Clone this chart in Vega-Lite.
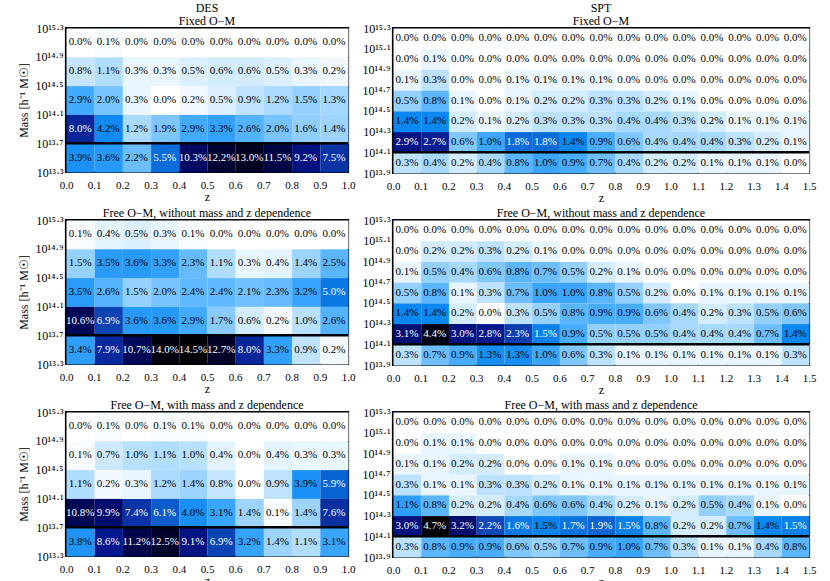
{
"$schema": "https://vega.github.io/schema/vega-lite/v6.json",
"padding": {"left": 15, "top": 0, "right": 5, "bottom": 2},
"background": "white",
"config": {
 "font": "Liberation Serif",
 "view": {"stroke": "black", "strokeWidth": 2.2},
 "axis": {"domain": false, "ticks": false, "tickSize": 0, "grid": false, "labelFont": "Liberation Serif", "labelFontSize": 11, "labelColor": "black", "labelFlush": false, "labelOverlap": false, "titleFont": "Liberation Serif", "titleFontSize": 12, "titleFontWeight": "normal", "titleColor": "black"},
 "axisX": {"labelPadding": 7, "titlePadding": 1},
 "axisY": {"labelPadding": 3, "titlePadding": 5, "labelFontSize": 12},
 "title": {"font": "Liberation Serif", "fontSize": 12, "fontWeight": "normal", "offset": -6, "lineHeight": 13, "color": "black"},
 "text": {"font": "Liberation Serif"}
},
"resolve": {"scale": {"color": "independent"}},
"datasets": {
"d1": [
{"z":0.05,"m":15.1,"v":0},{"z":0.15,"m":15.1,"v":0.001},{"z":0.25,"m":15.1,"v":0},{"z":0.35,"m":15.1,"v":0},{"z":0.45,"m":15.1,"v":0},{"z":0.55,"m":15.1,"v":0},{"z":0.65,"m":15.1,"v":0},{"z":0.75,"m":15.1,"v":0},{"z":0.85,"m":15.1,"v":0},{"z":0.95,"m":15.1,"v":0},
{"z":0.05,"m":14.7,"v":0.008},{"z":0.15,"m":14.7,"v":0.011},{"z":0.25,"m":14.7,"v":0.003},{"z":0.35,"m":14.7,"v":0.003},{"z":0.45,"m":14.7,"v":0.005},{"z":0.55,"m":14.7,"v":0.006},{"z":0.65,"m":14.7,"v":0.006},{"z":0.75,"m":14.7,"v":0.005},{"z":0.85,"m":14.7,"v":0.003},{"z":0.95,"m":14.7,"v":0.002},
{"z":0.05,"m":14.3,"v":0.029},{"z":0.15,"m":14.3,"v":0.020},{"z":0.25,"m":14.3,"v":0.003},{"z":0.35,"m":14.3,"v":0},{"z":0.45,"m":14.3,"v":0.002},{"z":0.55,"m":14.3,"v":0.005},{"z":0.65,"m":14.3,"v":0.009},{"z":0.75,"m":14.3,"v":0.012},{"z":0.85,"m":14.3,"v":0.015},{"z":0.95,"m":14.3,"v":0.013},
{"z":0.05,"m":13.9,"v":0.080},{"z":0.15,"m":13.9,"v":0.042},{"z":0.25,"m":13.9,"v":0.012},{"z":0.35,"m":13.9,"v":0.019},{"z":0.45,"m":13.9,"v":0.029},{"z":0.55,"m":13.9,"v":0.033},{"z":0.65,"m":13.9,"v":0.026},{"z":0.75,"m":13.9,"v":0.020},{"z":0.85,"m":13.9,"v":0.016},{"z":0.95,"m":13.9,"v":0.014},
{"z":0.05,"m":13.5,"v":0.039},{"z":0.15,"m":13.5,"v":0.036},{"z":0.25,"m":13.5,"v":0.022},{"z":0.35,"m":13.5,"v":0.055},{"z":0.45,"m":13.5,"v":0.103},{"z":0.55,"m":13.5,"v":0.122},{"z":0.65,"m":13.5,"v":0.130},{"z":0.75,"m":13.5,"v":0.115},{"z":0.85,"m":13.5,"v":0.092},{"z":0.95,"m":13.5,"v":0.075}
],
"d2": [
{"z":0.05,"m":15.1,"v":0.001},{"z":0.15,"m":15.1,"v":0.004},{"z":0.25,"m":15.1,"v":0.005},{"z":0.35,"m":15.1,"v":0.003},{"z":0.45,"m":15.1,"v":0.001},{"z":0.55,"m":15.1,"v":0},{"z":0.65,"m":15.1,"v":0},{"z":0.75,"m":15.1,"v":0},{"z":0.85,"m":15.1,"v":0},{"z":0.95,"m":15.1,"v":0},
{"z":0.05,"m":14.7,"v":0.015},{"z":0.15,"m":14.7,"v":0.035},{"z":0.25,"m":14.7,"v":0.036},{"z":0.35,"m":14.7,"v":0.033},{"z":0.45,"m":14.7,"v":0.023},{"z":0.55,"m":14.7,"v":0.011},{"z":0.65,"m":14.7,"v":0.003},{"z":0.75,"m":14.7,"v":0.004},{"z":0.85,"m":14.7,"v":0.014},{"z":0.95,"m":14.7,"v":0.025},
{"z":0.05,"m":14.3,"v":0.035},{"z":0.15,"m":14.3,"v":0.026},{"z":0.25,"m":14.3,"v":0.015},{"z":0.35,"m":14.3,"v":0.020},{"z":0.45,"m":14.3,"v":0.024},{"z":0.55,"m":14.3,"v":0.024},{"z":0.65,"m":14.3,"v":0.021},{"z":0.75,"m":14.3,"v":0.023},{"z":0.85,"m":14.3,"v":0.032},{"z":0.95,"m":14.3,"v":0.050},
{"z":0.05,"m":13.9,"v":0.106},{"z":0.15,"m":13.9,"v":0.069},{"z":0.25,"m":13.9,"v":0.036},{"z":0.35,"m":13.9,"v":0.036},{"z":0.45,"m":13.9,"v":0.029},{"z":0.55,"m":13.9,"v":0.017},{"z":0.65,"m":13.9,"v":0.006},{"z":0.75,"m":13.9,"v":0.002},{"z":0.85,"m":13.9,"v":0.010},{"z":0.95,"m":13.9,"v":0.026},
{"z":0.05,"m":13.5,"v":0.034},{"z":0.15,"m":13.5,"v":0.079},{"z":0.25,"m":13.5,"v":0.107},{"z":0.35,"m":13.5,"v":0.140},{"z":0.45,"m":13.5,"v":0.145},{"z":0.55,"m":13.5,"v":0.127},{"z":0.65,"m":13.5,"v":0.080},{"z":0.75,"m":13.5,"v":0.033},{"z":0.85,"m":13.5,"v":0.009},{"z":0.95,"m":13.5,"v":0.002}
],
"d3": [
{"z":0.05,"m":15.1,"v":0},{"z":0.15,"m":15.1,"v":0.001},{"z":0.25,"m":15.1,"v":0},{"z":0.35,"m":15.1,"v":0.001},{"z":0.45,"m":15.1,"v":0.001},{"z":0.55,"m":15.1,"v":0},{"z":0.65,"m":15.1,"v":0},{"z":0.75,"m":15.1,"v":0},{"z":0.85,"m":15.1,"v":0},{"z":0.95,"m":15.1,"v":0},
{"z":0.05,"m":14.7,"v":0.001},{"z":0.15,"m":14.7,"v":0.007},{"z":0.25,"m":14.7,"v":0.010},{"z":0.35,"m":14.7,"v":0.011},{"z":0.45,"m":14.7,"v":0.010},{"z":0.55,"m":14.7,"v":0.004},{"z":0.65,"m":14.7,"v":0},{"z":0.75,"m":14.7,"v":0.004},{"z":0.85,"m":14.7,"v":0.003},{"z":0.95,"m":14.7,"v":0.003},
{"z":0.05,"m":14.3,"v":0.011},{"z":0.15,"m":14.3,"v":0.002},{"z":0.25,"m":14.3,"v":0.003},{"z":0.35,"m":14.3,"v":0.012},{"z":0.45,"m":14.3,"v":0.014},{"z":0.55,"m":14.3,"v":0.008},{"z":0.65,"m":14.3,"v":0},{"z":0.75,"m":14.3,"v":0.009},{"z":0.85,"m":14.3,"v":0.039},{"z":0.95,"m":14.3,"v":0.059},
{"z":0.05,"m":13.9,"v":0.108},{"z":0.15,"m":13.9,"v":0.099},{"z":0.25,"m":13.9,"v":0.074},{"z":0.35,"m":13.9,"v":0.061},{"z":0.45,"m":13.9,"v":0.040},{"z":0.55,"m":13.9,"v":0.031},{"z":0.65,"m":13.9,"v":0.014},{"z":0.75,"m":13.9,"v":0.001},{"z":0.85,"m":13.9,"v":0.014},{"z":0.95,"m":13.9,"v":0.076},
{"z":0.05,"m":13.5,"v":0.038},{"z":0.15,"m":13.5,"v":0.086},{"z":0.25,"m":13.5,"v":0.112},{"z":0.35,"m":13.5,"v":0.125},{"z":0.45,"m":13.5,"v":0.091},{"z":0.55,"m":13.5,"v":0.069},{"z":0.65,"m":13.5,"v":0.032},{"z":0.75,"m":13.5,"v":0.014},{"z":0.85,"m":13.5,"v":0.011},{"z":0.95,"m":13.5,"v":0.031}
],
"s1": [
{"z":0.05,"m":15.2,"v":0},{"z":0.15,"m":15.2,"v":0},{"z":0.25,"m":15.2,"v":0},{"z":0.35,"m":15.2,"v":0},{"z":0.45,"m":15.2,"v":0},{"z":0.55,"m":15.2,"v":0},{"z":0.65,"m":15.2,"v":0},{"z":0.75,"m":15.2,"v":0},{"z":0.85,"m":15.2,"v":0},{"z":0.95,"m":15.2,"v":0},{"z":1.05,"m":15.2,"v":0},{"z":1.15,"m":15.2,"v":0},{"z":1.25,"m":15.2,"v":0},{"z":1.35,"m":15.2,"v":0},{"z":1.45,"m":15.2,"v":0},
{"z":0.05,"m":15.0,"v":0},{"z":0.15,"m":15.0,"v":0.001},{"z":0.25,"m":15.0,"v":0},{"z":0.35,"m":15.0,"v":0},{"z":0.45,"m":15.0,"v":0},{"z":0.55,"m":15.0,"v":0},{"z":0.65,"m":15.0,"v":0},{"z":0.75,"m":15.0,"v":0},{"z":0.85,"m":15.0,"v":0},{"z":0.95,"m":15.0,"v":0},{"z":1.05,"m":15.0,"v":0},{"z":1.15,"m":15.0,"v":0},{"z":1.25,"m":15.0,"v":0},{"z":1.35,"m":15.0,"v":0},{"z":1.45,"m":15.0,"v":0},
{"z":0.05,"m":14.8,"v":0.001},{"z":0.15,"m":14.8,"v":0.003},{"z":0.25,"m":14.8,"v":0},{"z":0.35,"m":14.8,"v":0},{"z":0.45,"m":14.8,"v":0.001},{"z":0.55,"m":14.8,"v":0.001},{"z":0.65,"m":14.8,"v":0.001},{"z":0.75,"m":14.8,"v":0.001},{"z":0.85,"m":14.8,"v":0},{"z":0.95,"m":14.8,"v":0},{"z":1.05,"m":14.8,"v":0},{"z":1.15,"m":14.8,"v":0},{"z":1.25,"m":14.8,"v":0},{"z":1.35,"m":14.8,"v":0},{"z":1.45,"m":14.8,"v":0},
{"z":0.05,"m":14.6,"v":0.005},{"z":0.15,"m":14.6,"v":0.008},{"z":0.25,"m":14.6,"v":0.001},{"z":0.35,"m":14.6,"v":0},{"z":0.45,"m":14.6,"v":0.001},{"z":0.55,"m":14.6,"v":0.002},{"z":0.65,"m":14.6,"v":0.002},{"z":0.75,"m":14.6,"v":0.003},{"z":0.85,"m":14.6,"v":0.003},{"z":0.95,"m":14.6,"v":0.002},{"z":1.05,"m":14.6,"v":0.001},{"z":1.15,"m":14.6,"v":0},{"z":1.25,"m":14.6,"v":0},{"z":1.35,"m":14.6,"v":0},{"z":1.45,"m":14.6,"v":0},
{"z":0.05,"m":14.4,"v":0.014},{"z":0.15,"m":14.4,"v":0.014},{"z":0.25,"m":14.4,"v":0.002},{"z":0.35,"m":14.4,"v":0.001},{"z":0.45,"m":14.4,"v":0.002},{"z":0.55,"m":14.4,"v":0.003},{"z":0.65,"m":14.4,"v":0.003},{"z":0.75,"m":14.4,"v":0.003},{"z":0.85,"m":14.4,"v":0.004},{"z":0.95,"m":14.4,"v":0.004},{"z":1.05,"m":14.4,"v":0.003},{"z":1.15,"m":14.4,"v":0.002},{"z":1.25,"m":14.4,"v":0.001},{"z":1.35,"m":14.4,"v":0.001},{"z":1.45,"m":14.4,"v":0.001},
{"z":0.05,"m":14.2,"v":0.029},{"z":0.15,"m":14.2,"v":0.027},{"z":0.25,"m":14.2,"v":0.006},{"z":0.35,"m":14.2,"v":0.010},{"z":0.45,"m":14.2,"v":0.018},{"z":0.55,"m":14.2,"v":0.018},{"z":0.65,"m":14.2,"v":0.014},{"z":0.75,"m":14.2,"v":0.009},{"z":0.85,"m":14.2,"v":0.006},{"z":0.95,"m":14.2,"v":0.004},{"z":1.05,"m":14.2,"v":0.004},{"z":1.15,"m":14.2,"v":0.004},{"z":1.25,"m":14.2,"v":0.003},{"z":1.35,"m":14.2,"v":0.002},{"z":1.45,"m":14.2,"v":0.001},
{"z":0.05,"m":14.0,"v":0.003},{"z":0.15,"m":14.0,"v":0.004},{"z":0.25,"m":14.0,"v":0.002},{"z":0.35,"m":14.0,"v":0.004},{"z":0.45,"m":14.0,"v":0.008},{"z":0.55,"m":14.0,"v":0.010},{"z":0.65,"m":14.0,"v":0.009},{"z":0.75,"m":14.0,"v":0.007},{"z":0.85,"m":14.0,"v":0.004},{"z":0.95,"m":14.0,"v":0.002},{"z":1.05,"m":14.0,"v":0.002},{"z":1.15,"m":14.0,"v":0.001},{"z":1.25,"m":14.0,"v":0.001},{"z":1.35,"m":14.0,"v":0.001},{"z":1.45,"m":14.0,"v":0}
],
"s2": [
{"z":0.05,"m":15.2,"v":0},{"z":0.15,"m":15.2,"v":0},{"z":0.25,"m":15.2,"v":0},{"z":0.35,"m":15.2,"v":0},{"z":0.45,"m":15.2,"v":0},{"z":0.55,"m":15.2,"v":0},{"z":0.65,"m":15.2,"v":0},{"z":0.75,"m":15.2,"v":0},{"z":0.85,"m":15.2,"v":0},{"z":0.95,"m":15.2,"v":0},{"z":1.05,"m":15.2,"v":0},{"z":1.15,"m":15.2,"v":0},{"z":1.25,"m":15.2,"v":0},{"z":1.35,"m":15.2,"v":0},{"z":1.45,"m":15.2,"v":0},
{"z":0.05,"m":15.0,"v":0},{"z":0.15,"m":15.0,"v":0.002},{"z":0.25,"m":15.0,"v":0.002},{"z":0.35,"m":15.0,"v":0.003},{"z":0.45,"m":15.0,"v":0.002},{"z":0.55,"m":15.0,"v":0.001},{"z":0.65,"m":15.0,"v":0},{"z":0.75,"m":15.0,"v":0},{"z":0.85,"m":15.0,"v":0},{"z":0.95,"m":15.0,"v":0},{"z":1.05,"m":15.0,"v":0},{"z":1.15,"m":15.0,"v":0},{"z":1.25,"m":15.0,"v":0},{"z":1.35,"m":15.0,"v":0},{"z":1.45,"m":15.0,"v":0},
{"z":0.05,"m":14.8,"v":0.001},{"z":0.15,"m":14.8,"v":0.005},{"z":0.25,"m":14.8,"v":0.004},{"z":0.35,"m":14.8,"v":0.006},{"z":0.45,"m":14.8,"v":0.008},{"z":0.55,"m":14.8,"v":0.007},{"z":0.65,"m":14.8,"v":0.005},{"z":0.75,"m":14.8,"v":0.002},{"z":0.85,"m":14.8,"v":0.001},{"z":0.95,"m":14.8,"v":0},{"z":1.05,"m":14.8,"v":0},{"z":1.15,"m":14.8,"v":0},{"z":1.25,"m":14.8,"v":0},{"z":1.35,"m":14.8,"v":0},{"z":1.45,"m":14.8,"v":0},
{"z":0.05,"m":14.6,"v":0.005},{"z":0.15,"m":14.6,"v":0.008},{"z":0.25,"m":14.6,"v":0.001},{"z":0.35,"m":14.6,"v":0.003},{"z":0.45,"m":14.6,"v":0.007},{"z":0.55,"m":14.6,"v":0.010},{"z":0.65,"m":14.6,"v":0.010},{"z":0.75,"m":14.6,"v":0.008},{"z":0.85,"m":14.6,"v":0.005},{"z":0.95,"m":14.6,"v":0.002},{"z":1.05,"m":14.6,"v":0},{"z":1.15,"m":14.6,"v":0.001},{"z":1.25,"m":14.6,"v":0.001},{"z":1.35,"m":14.6,"v":0.001},{"z":1.45,"m":14.6,"v":0.001},
{"z":0.05,"m":14.4,"v":0.014},{"z":0.15,"m":14.4,"v":0.014},{"z":0.25,"m":14.4,"v":0.002},{"z":0.35,"m":14.4,"v":0},{"z":0.45,"m":14.4,"v":0.003},{"z":0.55,"m":14.4,"v":0.005},{"z":0.65,"m":14.4,"v":0.008},{"z":0.75,"m":14.4,"v":0.009},{"z":0.85,"m":14.4,"v":0.009},{"z":0.95,"m":14.4,"v":0.006},{"z":1.05,"m":14.4,"v":0.004},{"z":1.15,"m":14.4,"v":0.002},{"z":1.25,"m":14.4,"v":0.003},{"z":1.35,"m":14.4,"v":0.005},{"z":1.45,"m":14.4,"v":0.006},
{"z":0.05,"m":14.2,"v":0.031},{"z":0.15,"m":14.2,"v":0.044},{"z":0.25,"m":14.2,"v":0.030},{"z":0.35,"m":14.2,"v":0.028},{"z":0.45,"m":14.2,"v":0.023},{"z":0.55,"m":14.2,"v":0.015},{"z":0.65,"m":14.2,"v":0.009},{"z":0.75,"m":14.2,"v":0.005},{"z":0.85,"m":14.2,"v":0.005},{"z":0.95,"m":14.2,"v":0.005},{"z":1.05,"m":14.2,"v":0.004},{"z":1.15,"m":14.2,"v":0.004},{"z":1.25,"m":14.2,"v":0.004},{"z":1.35,"m":14.2,"v":0.007},{"z":1.45,"m":14.2,"v":0.014},
{"z":0.05,"m":14.0,"v":0.003},{"z":0.15,"m":14.0,"v":0.007},{"z":0.25,"m":14.0,"v":0.009},{"z":0.35,"m":14.0,"v":0.013},{"z":0.45,"m":14.0,"v":0.013},{"z":0.55,"m":14.0,"v":0.010},{"z":0.65,"m":14.0,"v":0.006},{"z":0.75,"m":14.0,"v":0.003},{"z":0.85,"m":14.0,"v":0.001},{"z":0.95,"m":14.0,"v":0.001},{"z":1.05,"m":14.0,"v":0.001},{"z":1.15,"m":14.0,"v":0.001},{"z":1.25,"m":14.0,"v":0.001},{"z":1.35,"m":14.0,"v":0.001},{"z":1.45,"m":14.0,"v":0.003}
],
"s3": [
{"z":0.05,"m":15.2,"v":0},{"z":0.15,"m":15.2,"v":0},{"z":0.25,"m":15.2,"v":0},{"z":0.35,"m":15.2,"v":0},{"z":0.45,"m":15.2,"v":0},{"z":0.55,"m":15.2,"v":0},{"z":0.65,"m":15.2,"v":0},{"z":0.75,"m":15.2,"v":0},{"z":0.85,"m":15.2,"v":0},{"z":0.95,"m":15.2,"v":0},{"z":1.05,"m":15.2,"v":0},{"z":1.15,"m":15.2,"v":0},{"z":1.25,"m":15.2,"v":0},{"z":1.35,"m":15.2,"v":0},{"z":1.45,"m":15.2,"v":0},
{"z":0.05,"m":15.0,"v":0},{"z":0.15,"m":15.0,"v":0.001},{"z":0.25,"m":15.0,"v":0.001},{"z":0.35,"m":15.0,"v":0},{"z":0.45,"m":15.0,"v":0},{"z":0.55,"m":15.0,"v":0},{"z":0.65,"m":15.0,"v":0},{"z":0.75,"m":15.0,"v":0},{"z":0.85,"m":15.0,"v":0},{"z":0.95,"m":15.0,"v":0},{"z":1.05,"m":15.0,"v":0},{"z":1.15,"m":15.0,"v":0},{"z":1.25,"m":15.0,"v":0},{"z":1.35,"m":15.0,"v":0},{"z":1.45,"m":15.0,"v":0},
{"z":0.05,"m":14.8,"v":0.001},{"z":0.15,"m":14.8,"v":0.001},{"z":0.25,"m":14.8,"v":0.002},{"z":0.35,"m":14.8,"v":0.002},{"z":0.45,"m":14.8,"v":0},{"z":0.55,"m":14.8,"v":0},{"z":0.65,"m":14.8,"v":0.001},{"z":0.75,"m":14.8,"v":0.001},{"z":0.85,"m":14.8,"v":0},{"z":0.95,"m":14.8,"v":0},{"z":1.05,"m":14.8,"v":0},{"z":1.15,"m":14.8,"v":0},{"z":1.25,"m":14.8,"v":0},{"z":1.35,"m":14.8,"v":0},{"z":1.45,"m":14.8,"v":0},
{"z":0.05,"m":14.6,"v":0.003},{"z":0.15,"m":14.6,"v":0.001},{"z":0.25,"m":14.6,"v":0.001},{"z":0.35,"m":14.6,"v":0.003},{"z":0.45,"m":14.6,"v":0.003},{"z":0.55,"m":14.6,"v":0.002},{"z":0.65,"m":14.6,"v":0.001},{"z":0.75,"m":14.6,"v":0.001},{"z":0.85,"m":14.6,"v":0.001},{"z":0.95,"m":14.6,"v":0.001},{"z":1.05,"m":14.6,"v":0.001},{"z":1.15,"m":14.6,"v":0.001},{"z":1.25,"m":14.6,"v":0.001},{"z":1.35,"m":14.6,"v":0.001},{"z":1.45,"m":14.6,"v":0.001},
{"z":0.05,"m":14.4,"v":0.011},{"z":0.15,"m":14.4,"v":0.008},{"z":0.25,"m":14.4,"v":0.002},{"z":0.35,"m":14.4,"v":0.002},{"z":0.45,"m":14.4,"v":0.004},{"z":0.55,"m":14.4,"v":0.006},{"z":0.65,"m":14.4,"v":0.006},{"z":0.75,"m":14.4,"v":0.004},{"z":0.85,"m":14.4,"v":0.002},{"z":0.95,"m":14.4,"v":0.001},{"z":1.05,"m":14.4,"v":0.002},{"z":1.15,"m":14.4,"v":0.005},{"z":1.25,"m":14.4,"v":0.004},{"z":1.35,"m":14.4,"v":0.001},{"z":1.45,"m":14.4,"v":0},
{"z":0.05,"m":14.2,"v":0.030},{"z":0.15,"m":14.2,"v":0.047},{"z":0.25,"m":14.2,"v":0.032},{"z":0.35,"m":14.2,"v":0.022},{"z":0.45,"m":14.2,"v":0.016},{"z":0.55,"m":14.2,"v":0.0146},{"z":0.65,"m":14.2,"v":0.017},{"z":0.75,"m":14.2,"v":0.019},{"z":0.85,"m":14.2,"v":0.015},{"z":0.95,"m":14.2,"v":0.008},{"z":1.05,"m":14.2,"v":0.002},{"z":1.15,"m":14.2,"v":0.002},{"z":1.25,"m":14.2,"v":0.007},{"z":1.35,"m":14.2,"v":0.014},{"z":1.45,"m":14.2,"v":0.015},
{"z":0.05,"m":14.0,"v":0.003},{"z":0.15,"m":14.0,"v":0.008},{"z":0.25,"m":14.0,"v":0.009},{"z":0.35,"m":14.0,"v":0.009},{"z":0.45,"m":14.0,"v":0.006},{"z":0.55,"m":14.0,"v":0.005},{"z":0.65,"m":14.0,"v":0.007},{"z":0.75,"m":14.0,"v":0.009},{"z":0.85,"m":14.0,"v":0.010},{"z":0.95,"m":14.0,"v":0.007},{"z":1.05,"m":14.0,"v":0.003},{"z":1.15,"m":14.0,"v":0.001},{"z":1.25,"m":14.0,"v":0.001},{"z":1.35,"m":14.0,"v":0.004},{"z":1.45,"m":14.0,"v":0.008}
]
},
"spacing": 0,
"vconcat": [
{"resolve": {"scale": {"color": "independent"}}, "hconcat": [
 {"width": 282, "height": 144, "title": {"text": ["DES", "Fixed O−M"]}, "data": {"name": "d1"},
  "layer": [
   {"mark": {"type": "rect", "binSpacing": 0}, "encoding": {
     "x": {"field": "z", "type": "quantitative", "bin": {"extent": [0, 1], "step": 0.1, "nice": false}, "scale": {"domain": [0, 1], "nice": false, "zero": false}, "axis": {"values": [0,0.1,0.2,0.3,0.4,0.5,0.6,0.7,0.8,0.9,1], "format": ".1f", "title": "z"}},
     "y": {"field": "m", "type": "quantitative", "bin": {"extent": [13.3, 15.3], "step": 0.4, "nice": false}, "scale": {"domain": [13.3, 15.3], "nice": false, "zero": false}, "axis": {"values": [13.3,13.7,14.1,14.5,14.9,15.3], "labelExpr": "({'13.3':'10¹³·³','13.7':'10¹³·⁷','14.1':'10¹⁴·¹','14.5':'10¹⁴·⁵','14.9':'10¹⁴·⁹','15.3':'10¹⁵·³'})[format(datum.value,'.1f')]", "title": "Mass [h⁻¹ M☉]"}},
     "color": {"field": "v", "type": "quantitative", "legend": null, "scale": {"domain": [0,0.0145,0.029,0.0435,0.058,0.0725,0.087,0.1015,0.12325,0.145], "range": ["#ffffff","#98d2ff","#42aaff","#0a86f0","#0a66d4","#0a38aa","#04168c","#000a66","#00022e","#000005"], "interpolate": "rgb"}}}},
   {"mark": {"type": "text", "fontSize": 11}, "encoding": {
     "x": {"field": "z", "type": "quantitative", "axis": {"title": "z"}},
     "y": {"field": "m", "type": "quantitative", "axis": {"title": "Mass [h⁻¹ M☉]"}},
     "text": {"field": "v", "type": "quantitative", "format": ".1%"},
     "color": {"condition": {"test": "datum.v >= 0.045", "value": "white"}, "value": "black"}}},
   {"data": {"values": [{}]}, "mark": {"type": "rule", "strokeWidth": 2.5, "color": "black"}, "encoding": {"y": {"datum": 13.7}}}
  ]},
 {"width": 416, "height": 145, "title": {"text": ["SPT", "Fixed O−M"]}, "data": {"name": "s1"},
  "layer": [
   {"mark": {"type": "rect", "binSpacing": 0}, "encoding": {
     "x": {"field": "z", "type": "quantitative", "bin": {"extent": [0, 1.5], "step": 0.1, "nice": false}, "scale": {"domain": [0, 1.5], "nice": false, "zero": false}, "axis": {"values": [0,0.1,0.2,0.3,0.4,0.5,0.6,0.7,0.8,0.9,1,1.1,1.2,1.3,1.4,1.5], "format": ".1f", "title": "z"}},
     "y": {"field": "m", "type": "quantitative", "bin": {"extent": [13.9, 15.3], "step": 0.2, "nice": false}, "scale": {"domain": [13.9, 15.3], "nice": false, "zero": false}, "axis": {"values": [13.9,14.1,14.3,14.5,14.7,14.9,15.1,15.3], "labelExpr": "({'13.9':'10¹³·⁹','14.1':'10¹⁴·¹','14.3':'10¹⁴·³','14.5':'10¹⁴·⁵','14.7':'10¹⁴·⁷','14.9':'10¹⁴·⁹','15.1':'10¹⁵·¹','15.3':'10¹⁵·³'})[format(datum.value,'.1f')]", "title": null}},
     "color": {"field": "v", "type": "quantitative", "legend": null, "scale": {"domain": [0,0.0047,0.0094,0.0141,0.0188,0.0235,0.0282,0.0329,0.03995,0.047], "range": ["#ffffff","#98d2ff","#42aaff","#0a86f0","#0a66d4","#0a38aa","#04168c","#000a66","#00022e","#000005"], "interpolate": "rgb"}}}},
   {"mark": {"type": "text", "fontSize": 11}, "encoding": {
     "x": {"field": "z", "type": "quantitative", "axis": {"title": "z"}},
     "y": {"field": "m", "type": "quantitative", "axis": {"title": null}},
     "text": {"field": "v", "type": "quantitative", "format": ".1%"},
     "color": {"condition": {"test": "datum.v >= 0.0148", "value": "white"}, "value": "black"}}},
   {"data": {"values": [{}]}, "mark": {"type": "rule", "strokeWidth": 2.5, "color": "black"}, "encoding": {"y": {"datum": 14.1}}}
  ]}
], "spacing": 4},
{"resolve": {"scale": {"color": "independent"}}, "hconcat": [
 {"width": 282, "height": 144, "title": {"text": "Free O−M, without mass and z dependence"}, "data": {"name": "d2"},
  "layer": [
   {"mark": {"type": "rect", "binSpacing": 0}, "encoding": {
     "x": {"field": "z", "type": "quantitative", "bin": {"extent": [0, 1], "step": 0.1, "nice": false}, "scale": {"domain": [0, 1], "nice": false, "zero": false}, "axis": {"values": [0,0.1,0.2,0.3,0.4,0.5,0.6,0.7,0.8,0.9,1], "format": ".1f", "title": "z"}},
     "y": {"field": "m", "type": "quantitative", "bin": {"extent": [13.3, 15.3], "step": 0.4, "nice": false}, "scale": {"domain": [13.3, 15.3], "nice": false, "zero": false}, "axis": {"values": [13.3,13.7,14.1,14.5,14.9,15.3], "labelExpr": "({'13.3':'10¹³·³','13.7':'10¹³·⁷','14.1':'10¹⁴·¹','14.5':'10¹⁴·⁵','14.9':'10¹⁴·⁹','15.3':'10¹⁵·³'})[format(datum.value,'.1f')]", "title": "Mass [h⁻¹ M☉]"}},
     "color": {"field": "v", "type": "quantitative", "legend": null, "scale": {"domain": [0,0.0145,0.029,0.0435,0.058,0.0725,0.087,0.1015,0.12325,0.145], "range": ["#ffffff","#98d2ff","#42aaff","#0a86f0","#0a66d4","#0a38aa","#04168c","#000a66","#00022e","#000005"], "interpolate": "rgb"}}}},
   {"mark": {"type": "text", "fontSize": 11}, "encoding": {
     "x": {"field": "z", "type": "quantitative", "axis": {"title": "z"}},
     "y": {"field": "m", "type": "quantitative", "axis": {"title": "Mass [h⁻¹ M☉]"}},
     "text": {"field": "v", "type": "quantitative", "format": ".1%"},
     "color": {"condition": {"test": "datum.v >= 0.045", "value": "white"}, "value": "black"}}},
   {"data": {"values": [{}]}, "mark": {"type": "rule", "strokeWidth": 2.5, "color": "black"}, "encoding": {"y": {"datum": 13.7}}}
  ]},
 {"width": 416, "height": 145, "title": {"text": "Free O−M, without mass and z dependence"}, "data": {"name": "s2"},
  "layer": [
   {"mark": {"type": "rect", "binSpacing": 0}, "encoding": {
     "x": {"field": "z", "type": "quantitative", "bin": {"extent": [0, 1.5], "step": 0.1, "nice": false}, "scale": {"domain": [0, 1.5], "nice": false, "zero": false}, "axis": {"values": [0,0.1,0.2,0.3,0.4,0.5,0.6,0.7,0.8,0.9,1,1.1,1.2,1.3,1.4,1.5], "format": ".1f", "title": "z"}},
     "y": {"field": "m", "type": "quantitative", "bin": {"extent": [13.9, 15.3], "step": 0.2, "nice": false}, "scale": {"domain": [13.9, 15.3], "nice": false, "zero": false}, "axis": {"values": [13.9,14.1,14.3,14.5,14.7,14.9,15.1,15.3], "labelExpr": "({'13.9':'10¹³·⁹','14.1':'10¹⁴·¹','14.3':'10¹⁴·³','14.5':'10¹⁴·⁵','14.7':'10¹⁴·⁷','14.9':'10¹⁴·⁹','15.1':'10¹⁵·¹','15.3':'10¹⁵·³'})[format(datum.value,'.1f')]", "title": null}},
     "color": {"field": "v", "type": "quantitative", "legend": null, "scale": {"domain": [0,0.0047,0.0094,0.0141,0.0188,0.0235,0.0282,0.0329,0.03995,0.047], "range": ["#ffffff","#98d2ff","#42aaff","#0a86f0","#0a66d4","#0a38aa","#04168c","#000a66","#00022e","#000005"], "interpolate": "rgb"}}}},
   {"mark": {"type": "text", "fontSize": 11}, "encoding": {
     "x": {"field": "z", "type": "quantitative", "axis": {"title": "z"}},
     "y": {"field": "m", "type": "quantitative", "axis": {"title": null}},
     "text": {"field": "v", "type": "quantitative", "format": ".1%"},
     "color": {"condition": {"test": "datum.v >= 0.0148", "value": "white"}, "value": "black"}}},
   {"data": {"values": [{}]}, "mark": {"type": "rule", "strokeWidth": 2.5, "color": "black"}, "encoding": {"y": {"datum": 14.1}}}
  ]}
], "spacing": 4},
{"resolve": {"scale": {"color": "independent"}}, "hconcat": [
 {"width": 282, "height": 144, "title": {"text": "Free O−M, with mass and z dependence"}, "data": {"name": "d3"},
  "layer": [
   {"mark": {"type": "rect", "binSpacing": 0}, "encoding": {
     "x": {"field": "z", "type": "quantitative", "bin": {"extent": [0, 1], "step": 0.1, "nice": false}, "scale": {"domain": [0, 1], "nice": false, "zero": false}, "axis": {"values": [0,0.1,0.2,0.3,0.4,0.5,0.6,0.7,0.8,0.9,1], "format": ".1f", "title": "z"}},
     "y": {"field": "m", "type": "quantitative", "bin": {"extent": [13.3, 15.3], "step": 0.4, "nice": false}, "scale": {"domain": [13.3, 15.3], "nice": false, "zero": false}, "axis": {"values": [13.3,13.7,14.1,14.5,14.9,15.3], "labelExpr": "({'13.3':'10¹³·³','13.7':'10¹³·⁷','14.1':'10¹⁴·¹','14.5':'10¹⁴·⁵','14.9':'10¹⁴·⁹','15.3':'10¹⁵·³'})[format(datum.value,'.1f')]", "title": "Mass [h⁻¹ M☉]"}},
     "color": {"field": "v", "type": "quantitative", "legend": null, "scale": {"domain": [0,0.0145,0.029,0.0435,0.058,0.0725,0.087,0.1015,0.12325,0.145], "range": ["#ffffff","#98d2ff","#42aaff","#0a86f0","#0a66d4","#0a38aa","#04168c","#000a66","#00022e","#000005"], "interpolate": "rgb"}}}},
   {"mark": {"type": "text", "fontSize": 11}, "encoding": {
     "x": {"field": "z", "type": "quantitative", "axis": {"title": "z"}},
     "y": {"field": "m", "type": "quantitative", "axis": {"title": "Mass [h⁻¹ M☉]"}},
     "text": {"field": "v", "type": "quantitative", "format": ".1%"},
     "color": {"condition": {"test": "datum.v >= 0.045", "value": "white"}, "value": "black"}}},
   {"data": {"values": [{}]}, "mark": {"type": "rule", "strokeWidth": 2.5, "color": "black"}, "encoding": {"y": {"datum": 13.7}}}
  ]},
 {"width": 416, "height": 145, "title": {"text": "Free O−M, with mass and z dependence"}, "data": {"name": "s3"},
  "layer": [
   {"mark": {"type": "rect", "binSpacing": 0}, "encoding": {
     "x": {"field": "z", "type": "quantitative", "bin": {"extent": [0, 1.5], "step": 0.1, "nice": false}, "scale": {"domain": [0, 1.5], "nice": false, "zero": false}, "axis": {"values": [0,0.1,0.2,0.3,0.4,0.5,0.6,0.7,0.8,0.9,1,1.1,1.2,1.3,1.4,1.5], "format": ".1f", "title": "z"}},
     "y": {"field": "m", "type": "quantitative", "bin": {"extent": [13.9, 15.3], "step": 0.2, "nice": false}, "scale": {"domain": [13.9, 15.3], "nice": false, "zero": false}, "axis": {"values": [13.9,14.1,14.3,14.5,14.7,14.9,15.1,15.3], "labelExpr": "({'13.9':'10¹³·⁹','14.1':'10¹⁴·¹','14.3':'10¹⁴·³','14.5':'10¹⁴·⁵','14.7':'10¹⁴·⁷','14.9':'10¹⁴·⁹','15.1':'10¹⁵·¹','15.3':'10¹⁵·³'})[format(datum.value,'.1f')]", "title": null}},
     "color": {"field": "v", "type": "quantitative", "legend": null, "scale": {"domain": [0,0.0047,0.0094,0.0141,0.0188,0.0235,0.0282,0.0329,0.03995,0.047], "range": ["#ffffff","#98d2ff","#42aaff","#0a86f0","#0a66d4","#0a38aa","#04168c","#000a66","#00022e","#000005"], "interpolate": "rgb"}}}},
   {"mark": {"type": "text", "fontSize": 11}, "encoding": {
     "x": {"field": "z", "type": "quantitative", "axis": {"title": "z"}},
     "y": {"field": "m", "type": "quantitative", "axis": {"title": null}},
     "text": {"field": "v", "type": "quantitative", "format": ".1%"},
     "color": {"condition": {"test": "datum.v >= 0.0148", "value": "white"}, "value": "black"}}},
   {"data": {"values": [{}]}, "mark": {"type": "rule", "strokeWidth": 2.5, "color": "black"}, "encoding": {"y": {"datum": 14.1}}}
  ]}
], "spacing": 4}
]
}
